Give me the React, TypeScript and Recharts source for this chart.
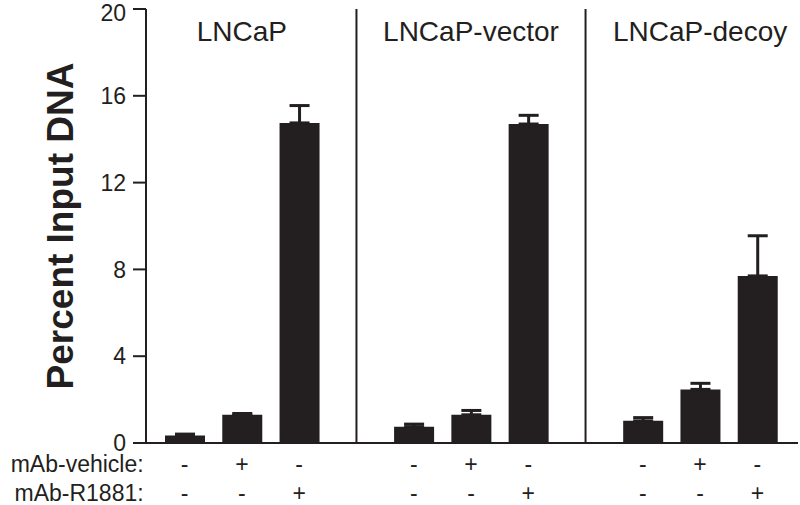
import {
  BarChart,
  Bar,
  XAxis,
  YAxis,
  ErrorBar,
  ReferenceLine,
  ReferenceDot,
  Label
} from 'recharts'

const FONT = '"Liberation Sans", Arial, Helvetica, sans-serif'
const INK = '#231f20'

const PANELS = ['LNCaP', 'LNCaP-vector', 'LNCaP-decoy']
const VEHICLE = ['-', '+', '-']
const R1881 = ['-', '-', '+']
const MEANS = [
  [0.35, 1.3, 14.75],
  [0.75, 1.3, 14.7],
  [1.02, 2.47, 7.7]
]
const ERRORS = [
  [0.06, 0.06, 0.8],
  [0.12, 0.2, 0.4],
  [0.15, 0.28, 1.85]
]
const Y_TICKS = [0, 4, 8, 12, 16, 20]

// 3 bars per panel, with an empty slot between panels for the divider line
const data: any[] = []
PANELS.forEach((panel, p) => {
  if (p > 0) data.push({ key: 'gap' + p, value: null, err: null })
  MEANS[p].forEach((v, i) => {
    data.push({
      key: panel + '#' + i,
      panel: i === 1 ? panel : null,
      vehicle: VEHICLE[i],
      r1881: R1881[i],
      value: v,
      err: [0, ERRORS[p][i]]
    })
  })
})

const XTick = (props: any) => {
  const x = Number(props.x)
  const y = Number(props.y)
  const row = data.find(d => d.key === props.payload.value)
  if (!row || !row.vehicle) return null
  return (
    <g fontFamily={FONT} fontSize={23} fill={INK}>
      {props.index === 0 && (
        <>
          <text x={x - 41} y={y + 29} textAnchor="end">mAb-vehicle:</text>
          <text x={x - 41} y={y + 58} textAnchor="end">mAb-R1881:</text>
        </>
      )}
      <text x={x} y={y + 29} textAnchor="middle">{row.vehicle}</text>
      <text x={x} y={y + 58} textAnchor="middle">{row.r1881}</text>
    </g>
  )
}

export default function App() {
  return (
    <div style={{ position: 'absolute', left: 0, top: 0, background: '#fff' }}>
      <BarChart
        width={800}
        height={505}
        data={data}
        margin={{ top: 9, right: 2, left: 0, bottom: 0 }}
        barSize={40}
      >
        <XAxis
          dataKey="key"
          interval={0}
          height={62}
          padding={{ left: 10, right: 12 }}
          axisLine={{ stroke: INK, strokeWidth: 2 }}
          tickLine={false}
          tickSize={0}
          tickMargin={0}
          tick={XTick}
        />
        <XAxis
          xAxisId="top"
          orientation="top"
          dataKey="key"
          height={0}
          axisLine={{ stroke: INK, strokeWidth: 2 }}
          tick={false}
          tickLine={false}
        />
        <YAxis
          domain={[0, 20]}
          ticks={Y_TICKS}
          width={146}
          axisLine={{ stroke: INK, strokeWidth: 2 }}
          tickLine={{ stroke: INK, strokeWidth: 2 }}
          tickSize={13}
          tickMargin={7}
          tick={{ fontSize: 23, fontFamily: FONT, fill: INK }}
        >
          <Label
            value="Percent Input DNA"
            angle={-90}
            position="center"
            dx={-13}
            style={{ fontFamily: FONT, fontSize: 37, fontWeight: 'bold', fill: INK }}
          />
        </YAxis>
        <YAxis
          yAxisId="right"
          orientation="right"
          width={0}
          axisLine={{ stroke: INK, strokeWidth: 2 }}
          tick={false}
          tickLine={false}
        />
        <ReferenceLine x="gap1" stroke={INK} strokeWidth={2} />
        <ReferenceLine x="gap2" stroke={INK} strokeWidth={2} />
        {data
          .filter(d => d.panel)
          .map(d => (
            <ReferenceDot
              key={d.key}
              x={d.key}
              y={19}
              r={1}
              fill="none"
              stroke="none"
              label={{
                value: d.panel,
                position: 'center',
                fontSize: 28,
                fontFamily: FONT,
                fill: INK
              }}
            />
          ))}
        <Bar dataKey="value" fill={INK} isAnimationActive={false}>
          <ErrorBar dataKey="err" direction="y" width={10} stroke={INK} strokeWidth={3} />
        </Bar>
      </BarChart>
    </div>
  )
}
